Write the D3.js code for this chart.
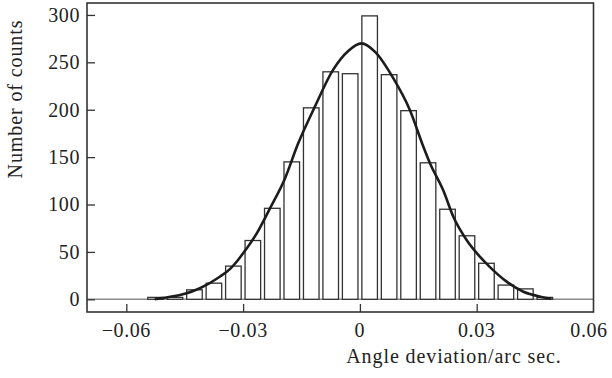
<!DOCTYPE html>
<html>
<head>
<meta charset="utf-8">
<script src="https://cdn.jsdelivr.net/npm/d3@7"></script>
<style>
  html, body { margin: 0; padding: 0; background: #fff; }
  svg { display: block; }
  text { font-family: "Liberation Serif", "DejaVu Serif", serif; fill: #222; }
</style>
</head>
<body>
<div id="chart"></div>
<script>
// histogram bins (centre of each bin, arc sec) and counts
var binCenters = [-0.0525, -0.0475, -0.0425, -0.0375, -0.0325, -0.0275, -0.0225, -0.0175, -0.0125, -0.0075, -0.0025,
                  0.0025, 0.0075, 0.0125, 0.0175, 0.0225, 0.0275, 0.0325, 0.0375, 0.0425, 0.0475];
var counts = [2, 2, 10, 17, 35, 62, 96, 145, 202, 240, 238,
              299, 237, 199, 144, 95, 67, 38, 15, 11, 2];

// fitted curve, points
var curveX = [-0.0527, -0.0514, -0.0462, -0.0411, -0.036, -0.0332, -0.0313, -0.03, -0.0265, -0.0231, -0.0193,
              -0.0159, -0.0116, -0.0069, -0.003, 0.0004, 0.0039, 0.0086, 0.0128, 0.0163, 0.018, 0.0214,
              0.024, 0.0274, 0.0308, 0.0334, 0.0377, 0.042, 0.0464, 0.0492];
var curveY = [0, 1, 4.5, 11.6, 23.8, 32.7, 41.5, 48.5, 69.6, 96, 127,
              164, 203, 242, 262, 270, 261, 233, 200, 161, 143.5, 115,
              87, 62.5, 45, 34, 18.6, 8, 2.7, 0.5];

var xTicks = [-0.06, -0.03, 0, 0.03, 0.06];
var yTicks = [0, 50, 100, 150, 200, 250, 300];

var W = 612, H = 378;
var box = {left: 87, right: 593.5, top: 3, bottom: 312};
var binWidth = 0.004;

var svg = d3.select("#chart").append("svg")
  .attr("width", W).attr("height", H);

var x = d3.scaleLinear().domain([-0.0701, 0.06]).range([box.left, box.right]);
var y = d3.scaleLinear().domain([-13.4, 312.6]).range([box.bottom, box.top]);

// zero line
svg.append("line")
  .attr("x1", box.left).attr("x2", box.right)
  .attr("y1", y(0)).attr("y2", y(0))
  .attr("stroke", "#8c8c8c").attr("stroke-width", 1.5);

// bars
var bars = binCenters.map(function(c, i) { return {c: c, n: counts[i]}; });
svg.append("g").selectAll("rect")
  .data(bars).enter()
  .append("rect")
  .attr("x", function(d) { return x(d.c - binWidth / 2); })
  .attr("width", function(d) { return x(d.c + binWidth / 2) - x(d.c - binWidth / 2); })
  .attr("y", function(d) { return y(d.n); })
  .attr("height", function(d) { return y(0) - y(d.n); })
  .attr("fill", "#fff")
  .attr("stroke", "#333")
  .attr("stroke-width", 1.3);

// fitted curve
var line = d3.line()
  .x(function(d) { return x(d[0]); })
  .y(function(d) { return y(d[1]); })
  .curve(d3.curveMonotoneX);
svg.append("path")
  .datum(d3.zip(curveX, curveY))
  .attr("d", line)
  .attr("fill", "none")
  .attr("stroke", "#1c1c1c")
  .attr("stroke-width", 2.6);

// axes, ticks pointing inwards
var xAxis = d3.axisTop(x).tickValues(xTicks.filter(function(t) { return t < 0.06; }))
  .tickSize(8).tickFormat("");
svg.append("g").attr("transform", "translate(0," + box.bottom + ")").call(xAxis)
  .call(function(g) { g.select(".domain").remove(); g.selectAll("line").attr("stroke", "#333").attr("stroke-width", 1.3); });

var yAxis = d3.axisRight(y).tickValues(yTicks).tickSize(8).tickFormat("");
svg.append("g").attr("transform", "translate(" + box.left + ",0)").call(yAxis)
  .call(function(g) { g.select(".domain").remove(); g.selectAll("line").attr("stroke", "#333").attr("stroke-width", 1.3); });

// frame
svg.append("rect")
  .attr("x", box.left).attr("y", box.top)
  .attr("width", box.right - box.left).attr("height", box.bottom - box.top)
  .attr("fill", "none").attr("stroke", "#333").attr("stroke-width", 1.6);

// tick labels
var fmtX = function(t) { return t === 0 ? "0" : (t < 0 ? "\u2212" : "") + Math.abs(t).toFixed(2); };
svg.append("g").selectAll("text")
  .data(xTicks).enter()
  .append("text")
  .attr("x", function(t) { return Math.min(x(t), 589); })
  .attr("y", 337)
  .attr("text-anchor", "middle")
  .attr("font-size", 20)
  .attr("letter-spacing", 0.6)
  .text(fmtX);

svg.append("g").selectAll("text")
  .data(yTicks).enter()
  .append("text")
  .attr("x", 80)
  .attr("y", function(t) { return y(t); })
  .attr("dy", "0.34em")
  .attr("text-anchor", "end")
  .attr("font-size", 20)
  .attr("letter-spacing", 0.6)
  .text(function(t) { return t; });

// axis titles
svg.append("text")
  .attr("x", 454).attr("y", 363)
  .attr("text-anchor", "middle")
  .attr("font-size", 20)
  .attr("letter-spacing", 0.9)
  .text("Angle deviation/arc sec.");

svg.append("text")
  .attr("transform", "translate(22,99) rotate(-90)")
  .attr("text-anchor", "middle")
  .attr("font-size", 20)
  .attr("letter-spacing", 0.9)
  .text("Number of counts");
</script>
</body>
</html>
